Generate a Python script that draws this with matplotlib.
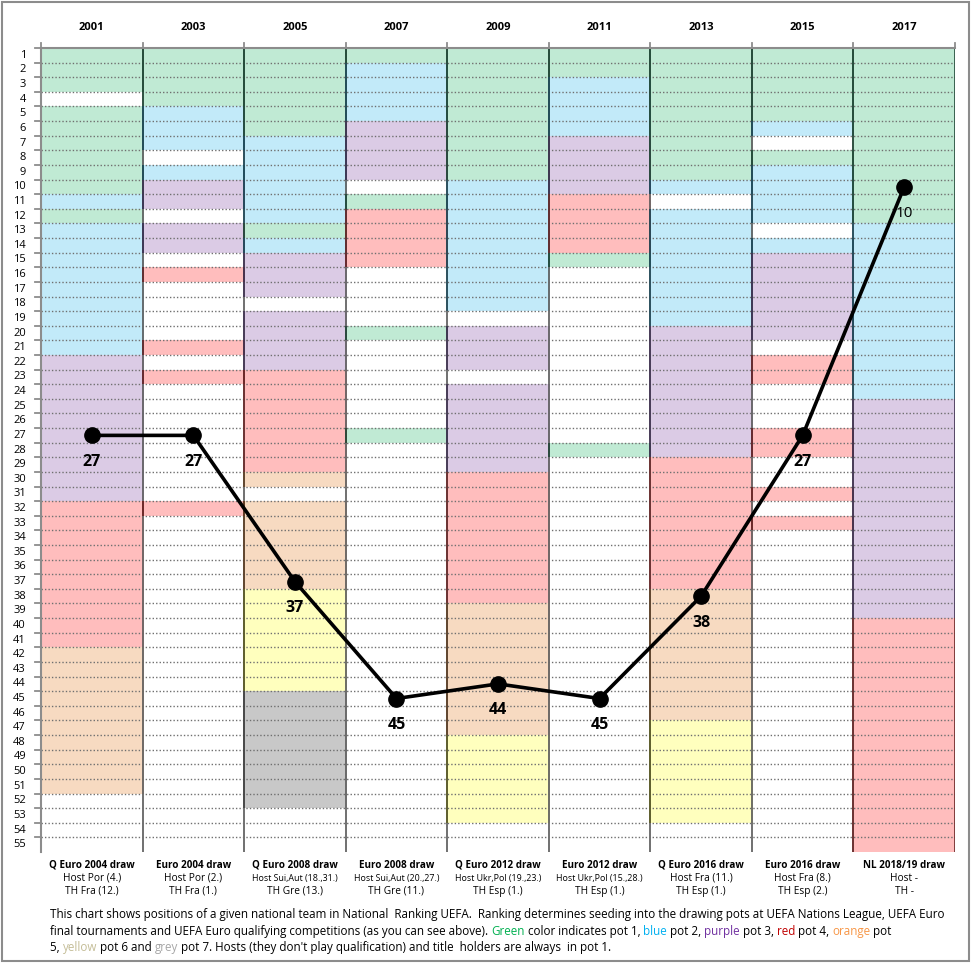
import matplotlib
matplotlib.use("Agg")
import matplotlib.pyplot as plt
from matplotlib.patches import Rectangle

# ---------------- data ----------------
years = ["2001", "2003", "2005", "2007", "2009", "2011", "2013", "2015", "2017"]
draw_names = ["Q Euro 2004 draw", "Euro 2004 draw", "Q Euro 2008 draw", "Euro 2008 draw",
              "Q Euro 2012 draw", "Euro 2012 draw", "Q Euro 2016 draw", "Euro 2016 draw",
              "NL 2018/19 draw"]
host_labels = ["Host Por (4.)", "Host Por (2.)", "Host Sui,Aut (18.,31.)", "Host Sui,Aut (20.,27.)",
               "Host Ukr,Pol (19.,23.)", "Host Ukr,Pol (15.,28.)", "Host Fra (11.)", "Host Fra (8.)",
               "Host -"]
th_labels = ["TH Fra (12.)", "TH Fra (1.)", "TH Gre (13.)", "TH Gre (11.)", "TH Esp (1.)",
             "TH Esp (1.)", "TH Esp (1.)", "TH Esp (2.)", "TH -"]
team_rank = [27, 27, 37, 45, 44, 45, 38, 27, 10]
n_ranks = 55

# pot of each ranking position, as (pot, number of positions) runs from rank 1 down
# 0 = none, 1 green, 2 blue, 3 purple, 4 red, 5 orange, 6 yellow, 7 grey
pots_2001 = [(1, 3), (0, 1), (1, 6), (2, 1), (1, 1), (2, 9), (3, 10), (4, 10), (5, 10), (0, 4)]
pots_2003 = [(1, 4), (2, 3), (0, 1), (2, 1), (3, 2), (0, 1), (3, 2), (0, 1), (4, 1), (0, 4),
             (4, 1), (0, 1), (4, 1), (0, 8), (4, 1), (0, 23)]
pots_2005 = [(1, 6), (2, 6), (1, 1), (2, 1), (3, 3), (0, 1), (3, 4), (4, 7), (5, 1), (0, 1),
             (5, 6), (6, 7), (7, 8), (0, 3)]
pots_2007 = [(1, 1), (2, 4), (3, 4), (0, 1), (1, 1), (4, 4), (0, 4), (1, 1), (0, 6), (1, 1), (0, 28)]
pots_2009 = [(1, 9), (2, 9), (0, 1), (3, 3), (0, 1), (3, 6), (4, 9), (5, 9), (6, 6), (0, 2)]
pots_2011 = [(1, 2), (2, 4), (3, 4), (4, 4), (1, 1), (0, 12), (1, 1), (0, 27)]
pots_2013 = [(1, 9), (2, 1), (0, 1), (2, 8), (3, 9), (4, 9), (5, 9), (6, 7), (0, 2)]
pots_2015 = [(1, 5), (2, 1), (0, 1), (1, 1), (2, 4), (0, 1), (2, 1), (3, 6), (0, 1), (4, 2),
             (0, 3), (4, 2), (0, 2), (4, 1), (0, 1), (4, 1), (0, 22)]
pots_2017 = [(1, 12), (2, 12), (3, 15), (4, 16)]
all_pots = [pots_2001, pots_2003, pots_2005, pots_2007, pots_2009, pots_2011, pots_2013,
            pots_2015, pots_2017]

# ---------------- style ----------------
fill = {0: None, 1: "#c0ead4", 2: "#c2eaf9", 3: "#dbcbe5", 4: "#ffbdbd", 5: "#f7dac1",
        6: "#ffffbe", 7: "#c8c8c8"}
edge = {0: "#707070", 1: "#234a38", 2: "#1f4a5a", 3: "#3f3151", 4: "#6a2626", 5: "#5c3d22",
        6: "#5a5a20", 7: "#404040"}

W, H = 971, 963
fig = plt.figure(figsize=(W / 100, H / 100), dpi=100)
x0, x1, y0, y1 = 41, 955, 48, 852
ax = fig.add_axes([x0 / W, 1 - y1 / H, (x1 - x0) / W, (y1 - y0) / H])
ax.set_xlim(0, len(years))
ax.set_ylim(n_ranks + 0.5, 0.5)
ax.axis("off")

# cells
for i, runs in enumerate(all_pots):
    r = 1
    for pot, cnt in runs:
        top = r - 0.5
        if fill[pot] is not None:
            ax.add_patch(Rectangle((i, top), 1, cnt, facecolor=fill[pot], edgecolor="none", zorder=1))
        r += cnt

# dotted rank separators
for k in range(1, n_ranks):
    ax.plot([0, len(years)], [k + 0.5, k + 0.5], color="#707070", lw=1.0,
            linestyle=(0, (1, 1.5)), zorder=2)

# vertical column borders (coloured by cell)
for i, runs in enumerate(all_pots):
    r = 1
    for pot, cnt in runs:
        for xx in (i, i + 1):
            if xx == 0:
                continue
            ax.plot([xx, xx], [r - 0.5, r - 0.5 + cnt], color=edge[pot], lw=1.2, zorder=3,
                    solid_capstyle="butt")
        r += cnt

# axis frame lines (top and left) with ticks
ax.plot([0, len(years)], [0.5, 0.5], color="#8c8c8c", lw=1.5, zorder=4, clip_on=False)
ax.plot([0, 0], [0.5, n_ranks + 0.5], color="#8c8c8c", lw=1.5, zorder=4, clip_on=False)
trans_top = ax.get_xaxis_transform()
for xx in range(0, len(years) + 1):
    ax.plot([xx, xx], [1.0, 1.0 + 5 / (y1 - y0)], transform=trans_top, color="#8c8c8c",
            lw=1.3, clip_on=False, zorder=4)
trans_left = ax.get_yaxis_transform()
for k in range(0, n_ranks):
    ax.plot([-6 / (x1 - x0), 0], [k + 0.5, k + 0.5], transform=trans_left, color="#8c8c8c",
            lw=1.3, clip_on=False, zorder=4)

# rank labels
for k in range(1, n_ranks + 1):
    ax.text(-15 / (x1 - x0), k, str(k), transform=trans_left, ha="right", va="center",
            fontsize=8, family="Open Sans", color="#000000")

# year labels
for i, y in enumerate(years):
    ax.text(i + 0.5, 1 + 21 / (y1 - y0), y, transform=trans_top, ha="center", va="center",
            fontsize=8, fontweight="bold", family="Open Sans")

# bottom labels
for i in range(len(years)):
    ax.text(i + 0.5, -13 / (y1 - y0), draw_names[i], transform=trans_top, ha="center",
            va="center", fontsize=7.1, fontweight="bold", family="Open Sans")
    hs = 6.4 if "," in host_labels[i] else 7.3
    ax.text(i + 0.5, -26 / (y1 - y0), host_labels[i], transform=trans_top, ha="center",
            va="center", fontsize=hs, family="Open Sans")
    ax.text(i + 0.5, -39 / (y1 - y0), th_labels[i], transform=trans_top, ha="center",
            va="center", fontsize=7.3, family="Open Sans")

# ranking line
xs = [i + 0.5 for i in range(len(years))]
ax.plot(xs, team_rank, color="black", lw=2.6, marker="o", markersize=11, zorder=6,
        solid_joinstyle="round")
for i, v in enumerate(team_rank):
    bold = i != len(years) - 1
    ax.annotate(str(v), (xs[i], v), xytext=(0, -19), textcoords="offset points",
                ha="center", va="center", fontsize=11.5 if bold else 11,
                fontweight="bold" if bold else "normal", family="Open Sans", zorder=7)

# caption with coloured words
caption = [
    [("This chart shows positions of a given national team in National  Ranking UEFA.  Ranking determines seeding into the drawing pots at UEFA Nations League, UEFA Euro", "#000000")],
    [("final tournaments and UEFA Euro qualifying competitions (as you can see above). ", "#000000"),
     ("Green", "#00b050"), (" color indicates pot 1, ", "#000000"), ("blue", "#00b0f0"),
     (" pot 2, ", "#000000"), ("purple", "#7030a0"), (" pot 3, ", "#000000"), ("red", "#c00000"),
     (" pot 4, ", "#000000"), ("orange", "#f79646"), (" pot", "#000000")],
    [("5, ", "#000000"), ("yellow", "#c4bd97"), (" pot 6 and ", "#000000"), ("grey", "#a6a6a6"),
     (" pot 7. Hosts (they don't play qualification) and title  holders are always  in pot 1.", "#000000")],
]
renderer = fig.canvas.get_renderer()
line_y = [914, 931, 947]
for ly, parts in zip(line_y, caption):
    xpix = 50
    for txt, col in parts:
        t = fig.text(xpix / W, 1 - ly / H, txt, color=col, fontsize=8.35, family="Open Sans",
                     ha="left", va="center")
        bb = t.get_window_extent(renderer=renderer)
        xpix += bb.width

# outer border
fig.patches.append(Rectangle((2 / W, 2 / H), (W - 4) / W, (H - 4) / H, transform=fig.transFigure,
                             fill=False, edgecolor="#8c8c8c", lw=1.5))

fig.savefig("out.png", dpi=100)
